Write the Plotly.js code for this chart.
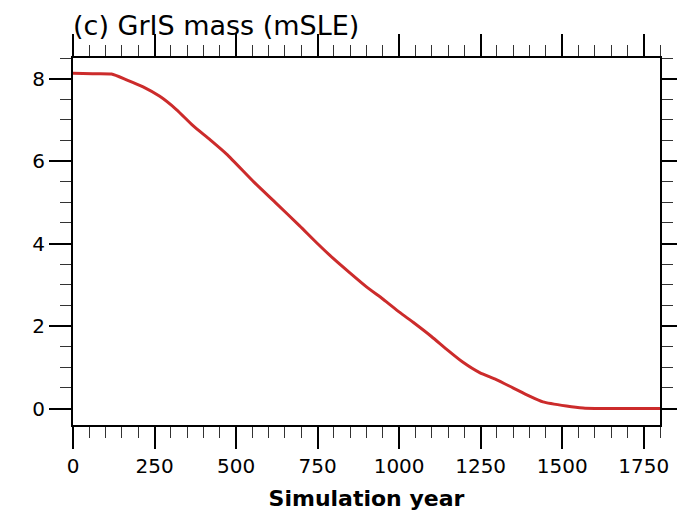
<!DOCTYPE html>
<html>
<head>
<meta charset="utf-8">
<script src="https://cdn.plot.ly/plotly-3.0.1.min.js"></script>
<style>
  html, body { margin: 0; padding: 0; background: #fff; }
  #chart { width: 677px; height: 512px; }
</style>
</head>
<body>
<div id="chart"></div>
<script>
// Greenland ice sheet mass, metres of sea-level equivalent, by simulation year
const years = [0, 60, 118, 164, 215, 266, 317, 368, 420, 471, 555, 620, 695, 747, 798, 849, 900, 951,
               1002, 1043, 1100, 1145, 1196, 1247, 1298, 1349, 1400, 1441, 1513, 1564, 1600, 1700, 1800];
const massSLE = [8.13, 8.12, 8.11, 7.97, 7.80, 7.57, 7.25, 6.86, 6.52, 6.17, 5.49, 5.00, 4.43, 4.02, 3.64, 3.29, 2.95, 2.65,
                 2.33, 2.09, 1.74, 1.44, 1.12, 0.87, 0.70, 0.50, 0.30, 0.16, 0.06, 0.01, 0.0, 0.0, 0.0];

const xTickVals = [0, 250, 500, 750, 1000, 1250, 1500, 1750];
const yTickVals = [0, 2, 4, 6, 8];

const font = 'DejaVu Sans, sans-serif';

const trace = {
  x: years,
  y: massSLE,
  type: 'scatter',
  mode: 'lines',
  line: { color: 'rgb(204,43,43)', width: 3, shape: 'spline', smoothing: 0.6 },
  hoverinfo: 'skip'
};

const axisCommon = {
  showgrid: false,
  zeroline: false,
  showline: true,
  linecolor: '#000',
  linewidth: 2,
  mirror: 'allticks',
  ticks: 'outside',
  ticklen: 22,
  tickwidth: 2,
  tickcolor: '#000',
  tickfont: { family: font, size: 20, color: '#000' }
};

const layout = {
  width: 677,
  height: 512,
  margin: { l: 73, r: 17, t: 58, b: 87 },
  paper_bgcolor: '#fff',
  plot_bgcolor: '#fff',
  showlegend: false,
  title: {
    text: '(c) GrIS mass (mSLE)',
    font: { family: font, size: 27, color: '#000' },
    xref: 'paper', x: 0, xanchor: 'left',
    yref: 'container', y: 0.95, yanchor: 'middle'
  },
  xaxis: Object.assign({}, axisCommon, {
    range: [0, 1800],
    tickvals: xTickVals,
    ticktext: xTickVals.map(String),
    minor: { dtick: 50, tick0: 0, ticks: 'outside', ticklen: 11, tickwidth: 1, tickcolor: '#333' },
    title: { text: '<b>Simulation year</b>', font: { family: font, size: 22, color: '#000' }, standoff: 14 }
  }),
  yaxis: Object.assign({}, axisCommon, {
    range: [-0.4, 8.5],
    tickvals: yTickVals,
    ticktext: yTickVals.map(String),
    minor: { dtick: 0.5, tick0: 0, ticks: 'outside', ticklen: 11, tickwidth: 1, tickcolor: '#333' }
  })
};

Plotly.newPlot('chart', [trace], layout, { staticPlot: true, displayModeBar: false });
</script>
</body>
</html>
